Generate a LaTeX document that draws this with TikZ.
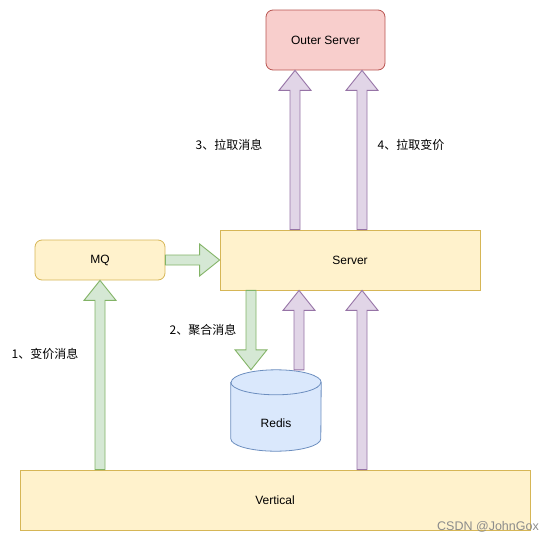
\documentclass[tikz,border=0pt]{standalone}
\usepackage{fontspec}
\setmainfont{Liberation Sans}
\newfontfamily\cjk{Noto Sans CJK SC}
\usepackage{tikz}
\usetikzlibrary{positioning,calc}

\definecolor{ylwfill}{HTML}{FFF2CC}
\definecolor{ylwline}{HTML}{D6B656}
\definecolor{redfill}{HTML}{F8CECC}
\definecolor{redline}{HTML}{B85450}
\definecolor{bluefill}{HTML}{DAE8FC}
\definecolor{blueline}{HTML}{6C8EBF}
\definecolor{grnfill}{HTML}{D5E8D4}
\definecolor{grnline}{HTML}{82B366}
\definecolor{purfill}{HTML}{E1D5E7}
\definecolor{purline}{HTML}{9673A6}

% fat arrow: style, from, to
\newcommand{\fatarrow}[3]{%
  \coordinate (fa) at ($(#3)!20pt!(#2)$);
  \draw[#1] ($(#2)!5pt!90:(#3)$) -- ($(fa)!5pt!90:(#3)$)
    -- ($(fa)!16pt!90:(#3)$) -- (#3) -- ($(fa)!16pt!-90:(#3)$)
    -- ($(fa)!5pt!-90:(#3)$) -- ($(#2)!5pt!-90:(#3)$) -- cycle;}

\begin{document}
\begin{tikzpicture}[x=1pt,y=-1pt,font=\fontsize{12}{14}\selectfont,
    box/.style={rectangle,draw=ylwline,fill=ylwfill,inner sep=0pt,line width=0.8pt},
    rbox/.style={box,rounded corners=7pt},
    garrow/.style={draw=grnline,fill=grnfill,line width=0.9pt,line join=miter},
    parrow/.style={draw=purline,fill=purfill,line width=0.9pt,line join=miter},
    cyl/.style={draw=blueline,fill=bluefill,line width=0.8pt},
    lbl/.style={font=\cjk\fontsize{12}{14}\selectfont}]
  \useasboundingbox (0,0) rectangle (551,541);

  \node[rbox,draw=redline,fill=redfill,minimum width=119pt,minimum height=60pt] (outer) at (325.5,40) {Outer Server};
  \node[rbox,minimum width=130pt,minimum height=40pt] (mq) at (100,260) {MQ};
  \node[box,minimum width=260pt,minimum height=60pt] (server) at (350,260) {Server};
  \node[box,minimum width=510pt,minimum height=60pt] (vertical) at (275,500) {Vertical};

  % redis drum
  \node[minimum width=90pt,minimum height=81pt,inner sep=0pt] (redis) at (276,410.5) {};
  \draw[cyl] ($(redis.north west)+(0,12.5)$) -- ($(redis.south west)-(0,12.5)$)
    arc[start angle=180,end angle=360,x radius=45pt,y radius=12.5pt]
    -- ($(redis.north east)+(0,12.5)$)
    arc[start angle=0,end angle=180,x radius=45pt,y radius=12.5pt] -- cycle;
  \draw[cyl,fill=none] ($(redis.north west)+(0,12.5)$)
    arc[start angle=180,end angle=360,x radius=45pt,y radius=12.5pt];
  \node (rlbl) at ($(redis.center)+(0,12.5)$) {Redis};

  \coordinate (xg) at (251,0);
  \coordinate (xr) at (299,0);
  \coordinate (xa) at (295,0);
  \coordinate (xb) at (362,0);

  \fatarrow{garrow}{vertical.north -| mq.south}{mq.south}
  \fatarrow{garrow}{mq.east}{server.west |- mq.east}
  \fatarrow{garrow}{server.south -| xg}{redis.north -| xg}
  \fatarrow{parrow}{redis.north -| xr}{server.south -| xr}
  \fatarrow{parrow}{vertical.north -| xb}{server.south -| xb}
  \fatarrow{parrow}{server.north -| xa}{outer.south -| xa}
  \fatarrow{parrow}{server.north -| xb}{outer.south -| xb}

  \node[lbl] (l3) at (229,145) {3、拉取消息};
  \node[lbl] (l4) at (411,145) {4、拉取变价};
  \node[lbl] (l1) at (45,354) {1、变价消息};
  \node[lbl] (l2) at (203,330) {2、聚合消息};

  \node[text=black!45,font=\fontsize{12.5}{15}\selectfont] (mark) at (488,527) {CSDN @JohnGox};
\end{tikzpicture}
\end{document}
